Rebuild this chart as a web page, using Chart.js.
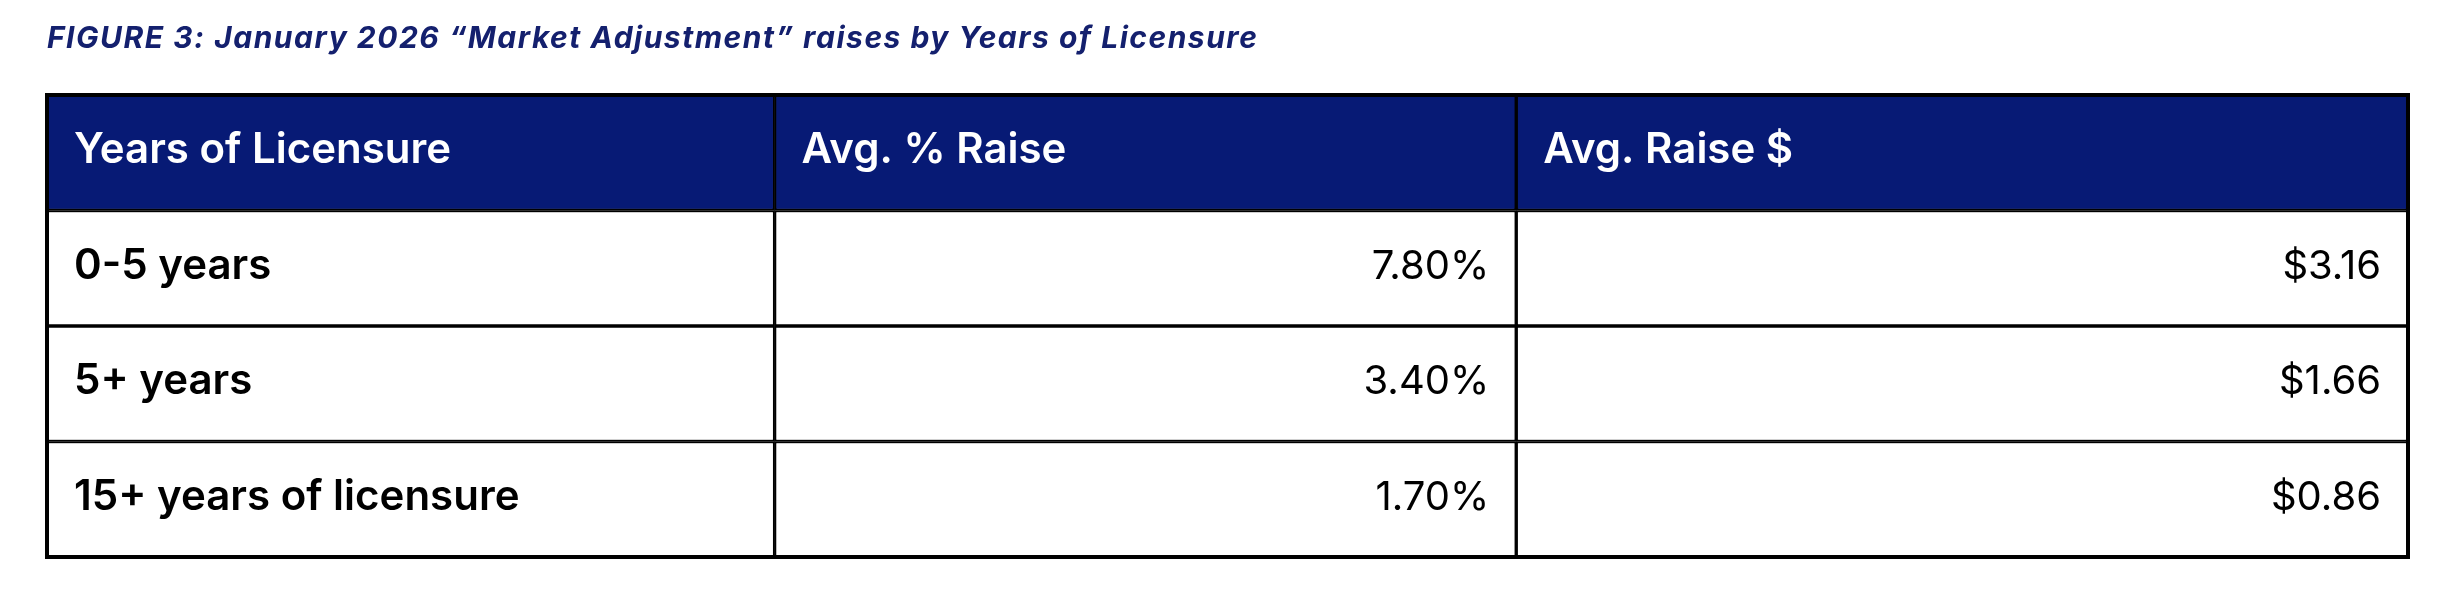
<!DOCTYPE html>
<html>
<head>
<meta charset="utf-8">
<title>Market Adjustment raises by Years of Licensure</title>
<script src="https://cdn.jsdelivr.net/npm/chart.js@4.4.1/dist/chart.umd.min.js"></script>
<style>
  html, body { margin: 0; padding: 0; background: #ffffff; }
  #wrap { width: 2458px; height: 594px; position: relative; }
</style>
</head>
<body>
<div id="wrap"><canvas id="raiseTable"></canvas></div>
<script>
// table content
const headers = ['Years of Licensure', 'Avg. % Raise', 'Avg. Raise $'];
const rowLabels = ['0-5 years', '5+ years', '15+ years of licensure'];
const pctRaise = [7.80, 3.40, 1.70];
const dollarRaise = [3.16, 1.66, 0.86];

// layout: relative column widths of the table
const colWidths = [727, 741, 891];
const navy = '#071a75';
const fontFamily = 'Inter, "Noto Sans", sans-serif';

const rows = ['header'].concat(rowLabels);

function cellText(col, row) {
    if (row === 0) return headers[col];
    const i = row - 1;
    if (col === 0) return rowLabels[i];
    if (col === 1) return pctRaise[i].toFixed(2) + '%';
    return '$' + dollarRaise[i].toFixed(2);
}

const datasets = headers.map((h, col) => ({
    label: h,
    data: rows.map(() => colWidths[col]),
    backgroundColor: rows.map((r, i) => i === 0 ? navy : '#ffffff'),
    borderColor: '#000000',
    borderWidth: 2,
    borderSkipped: false,
    barPercentage: 1,
    categoryPercentage: 1
}));

// the title face is wider than Inter, so space its letters out a little
const titleSpacing = {
    id: 'titleSpacing',
    beforeDraw(chart) { chart.ctx.letterSpacing = '1.5px'; },
    beforeDatasetsDraw(chart) { chart.ctx.letterSpacing = '0px'; }
};

const cellTextPlugin = {
    id: 'cellText',
    afterDatasetsDraw(chart) {
        const ctx = chart.ctx;
        const area = chart.chartArea;
        // outer frame is drawn heavier than the inner rules
        ctx.save();
        ctx.strokeStyle = '#000000';
        ctx.lineWidth = 4;
        ctx.strokeRect(area.left, area.top, area.right - area.left, area.bottom - area.top);
        ctx.restore();

        chart.data.datasets.forEach((ds, col) => {
            const meta = chart.getDatasetMeta(col);
            meta.data.forEach((bar, row) => {
                const p = bar.getProps(['x', 'y', 'base'], true);
                const left = Math.min(p.x, p.base);
                const right = Math.max(p.x, p.base);
                ctx.save();
                ctx.textBaseline = 'alphabetic';
                if (row === 0) {
                    ctx.fillStyle = '#ffffff';
                    ctx.font = '600 42px ' + fontFamily;
                } else if (col === 0) {
                    ctx.fillStyle = '#000000';
                    ctx.font = '600 42px ' + fontFamily;
                } else {
                    ctx.fillStyle = '#000000';
                    ctx.font = '400 40px ' + fontFamily;
                }
                const baseY = p.y + 10.5;
                if (row === 0 || col === 0) {
                    ctx.textAlign = 'left';
                    ctx.fillText(cellText(col, row), left + 27, baseY);
                } else {
                    ctx.textAlign = 'right';
                    ctx.fillText(cellText(col, row), right - 27, baseY);
                }
                ctx.restore();
            });
        });
    }
};

const ctx = document.getElementById('raiseTable').getContext('2d');
new Chart(ctx, {
    type: 'bar',
    data: {
        labels: rows,
        datasets: datasets
    },
    options: {
        indexAxis: 'y',
        responsive: true,
        maintainAspectRatio: false,
        animation: false,
        events: [],
        layout: {
            padding: { left: 47, right: 50, top: 21, bottom: 37 }
        },
        scales: {
            x: {
                display: false,
                stacked: true,
                min: 0,
                max: colWidths.reduce((a, b) => a + b, 0)
            },
            y: {
                display: false,
                stacked: true
            }
        },
        plugins: {
            legend: { display: false },
            tooltip: { enabled: false },
            title: {
                display: true,
                align: 'start',
                text: 'FIGURE 3: January 2026 \u201cMarket Adjustment\u201d raises by Years of Licensure',
                color: '#14206e',
                font: { family: fontFamily, size: 30, weight: 'bold', style: 'italic', lineHeight: 1.2 },
                padding: { top: 0, bottom: 38 }
            }
        }
    },
    plugins: [titleSpacing, cellTextPlugin]
});
</script>
</body>
</html>
